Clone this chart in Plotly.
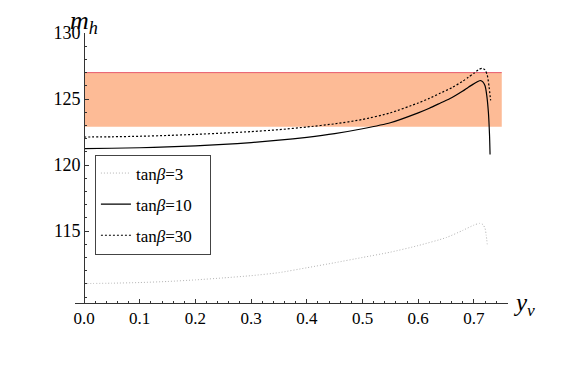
import plotly.graph_objects as go

x_tb3 = [0, 0.05, 0.1, 0.15, 0.2, 0.25, 0.3, 0.35, 0.4, 0.45, 0.5, 0.55, 0.6, 0.65, 0.68, 0.70, 0.71, 0.716, 0.72, 0.722, 0.724]
y_tb3 = [111.02, 111.05, 111.1, 111.18, 111.3, 111.45, 111.62, 111.85, 112.22, 112.6, 113.0, 113.4, 113.9, 114.5, 115.05, 115.45, 115.58, 115.5, 115.2, 114.7, 114.0]

x_tb10 = [0, 0.05, 0.1, 0.15, 0.2, 0.25, 0.3, 0.35, 0.4, 0.45, 0.5, 0.55, 0.6, 0.62, 0.64, 0.66, 0.68, 0.69, 0.70, 0.707, 0.712, 0.716, 0.72, 0.723, 0.726, 0.728, 0.729]
y_tb10 = [121.25, 121.27, 121.31, 121.37, 121.45, 121.56, 121.7, 121.88, 122.1, 122.38, 122.75, 123.2, 123.95, 124.3, 124.7, 125.1, 125.6, 125.9, 126.15, 126.33, 126.4, 126.3, 126.0, 125.3, 124.0, 122.3, 120.8]

x_tb30 = [0, 0.05, 0.1, 0.15, 0.2, 0.25, 0.3, 0.35, 0.4, 0.45, 0.5, 0.55, 0.6, 0.62, 0.64, 0.66, 0.68, 0.69, 0.70, 0.708, 0.715, 0.72, 0.724, 0.727, 0.73]
y_tb30 = [122.12, 122.14, 122.18, 122.24, 122.32, 122.42, 122.53, 122.68, 122.88, 123.12, 123.45, 123.95, 124.7, 125.05, 125.45, 125.85, 126.35, 126.65, 126.95, 127.22, 127.33, 127.2, 126.8, 126.0, 124.9]

band_x = [0, 0.75]
band_y = [122.9, 127]

x_ticks = [0.0, 0.1, 0.2, 0.3, 0.4, 0.5, 0.6, 0.7]
y_ticks = [115, 120, 125, 130]

serif = "Times New Roman, Liberation Serif, DejaVu Serif, serif"
pad = "\u00a0" * 3  # legend box is wider than its text in the reference

fig = go.Figure()

fig.add_shape(type="rect", x0=band_x[0], x1=band_x[1], y0=band_y[0], y1=band_y[1],
              fillcolor="rgb(253,187,150)", line=dict(width=0), layer="below")
fig.add_shape(type="line", x0=band_x[0], x1=band_x[1], y0=band_y[1], y1=band_y[1],
              line=dict(color="rgb(232,90,110)", width=1), layer="below")

fig.add_trace(go.Scatter(x=x_tb3, y=y_tb3, mode="lines", name="tan<i>β</i>=3" + pad,
                         line=dict(color="#b4b4b4", width=1, dash="1px,2px", shape="spline", smoothing=0.6),
                         legendgroup="a"))
fig.add_trace(go.Scatter(x=x_tb10, y=y_tb10, mode="lines", name="tan<i>β</i>=10" + pad,
                         line=dict(color="black", width=1.2, shape="spline", smoothing=0.6),
                         legendgroup="b"))
fig.add_trace(go.Scatter(x=x_tb30, y=y_tb30, mode="lines", name="tan<i>β</i>=30" + pad,
                         line=dict(color="black", width=1.2, dash="2px,2px", shape="spline", smoothing=0.6),
                         legendgroup="c"))

# the page body adds an 8px offset, so margins are shifted to compensate
fig.update_layout(
    width=581, height=380,
    margin=dict(l=67, r=81, t=25, b=85),
    plot_bgcolor="white", paper_bgcolor="white",
    font=dict(family=serif, color="black"),
    showlegend=True,
    legend=dict(x=0.046, y=0.55, xanchor="left", yanchor="top",
                bgcolor="white", bordercolor="#444", borderwidth=1,
                font=dict(size=17, family=serif), tracegroupgap=6),
)

fig.update_xaxes(range=[-0.0162, 0.7612], tickvals=x_ticks, ticktext=[f"{v:.1f}" for v in x_ticks],
                 showline=True, linecolor="#333", linewidth=1, showgrid=False, zeroline=False,
                 ticks="inside", ticklen=4, tickcolor="#333", tickfont=dict(size=17, family=serif),
                 minor=dict(dtick=0.02, tick0=0, ticks="inside", ticklen=2, tickcolor="#333"))
fig.update_yaxes(range=[109.55, 130], tickvals=y_ticks,
                 anchor="free", position=0.0208,
                 showline=True, linecolor="#333", linewidth=1, showgrid=False, zeroline=False,
                 ticks="inside", ticklen=4, tickcolor="#333", tickfont=dict(size=18, family=serif),
                 minor=dict(dtick=1, tick0=110, ticks="inside", ticklen=2, tickcolor="#333"))

fig.add_annotation(text="<i>m</i><sub><i>h</i></sub>", xref="paper", yref="paper",
                   x=0.02, y=1.04, xanchor="center", yanchor="middle",
                   showarrow=False, font=dict(size=26, family=serif))
fig.add_annotation(text="<i>y<sub>ν</sub></i>", xref="paper", yref="paper",
                   x=1.037, y=-0.005, xanchor="center", yanchor="middle",
                   showarrow=False, font=dict(size=25, family=serif))

fig.write_html("out.html")
